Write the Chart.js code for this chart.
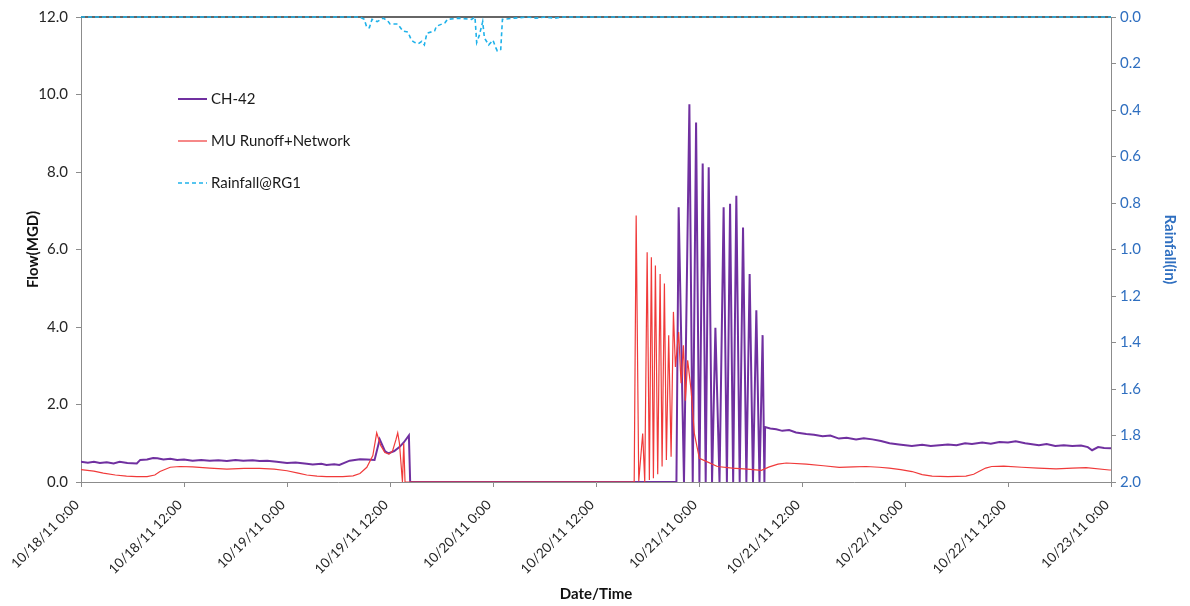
<!DOCTYPE html>
<html>
<head>
<meta charset="utf-8">
<title>CH-42 Flow vs Rainfall</title>
<script src="https://cdn.jsdelivr.net/npm/chart.js@4.4.1/dist/chart.umd.min.js"></script>
<style>
  html, body { margin: 0; padding: 0; background: #fff; }
  #wrap { width: 1190px; height: 606px; position: relative; }
</style>
</head>
<body>
<div id="wrap"><canvas id="flowChart"></canvas></div>
<script>
// x values are hours after 10/18/11 0:00
const tickLabels = ['10/18/11 0:00', '10/18/11 12:00', '10/19/11 0:00', '10/19/11 12:00', '10/20/11 0:00',
    '10/20/11 12:00', '10/21/11 0:00', '10/21/11 12:00', '10/22/11 0:00', '10/22/11 12:00', '10/23/11 0:00'];

const ch42Hours = [0, 0.8, 1.5, 2.2, 3.0, 3.8, 4.5, 5.4, 6.5, 6.9, 7.7, 8.4, 8.9, 9.6, 10.4, 11.2, 12.0, 13.0, 14.0,
    15.0, 16.0, 17.0, 18.0, 18.9, 20.0, 20.8, 21.7, 22.8, 24.0, 25.0, 26.3, 27.0, 28.0, 28.6, 29.5, 30.1, 31.3, 32.5,
    33.3, 34.2, 34.8, 35.4, 35.8, 36.5, 37.1, 37.6, 38.2, 38.35,
    69.37, 69.63, 70.25, 70.88, 71.27, 71.66, 72.05, 72.43, 72.78, 73.13, 73.52, 73.91, 74.39, 74.87, 75.25, 75.62,
    75.98, 76.35, 76.74, 77.13, 77.52, 77.9, 78.29, 78.68, 79.05, 79.41, 79.62,
    79.7, 80.3, 81.0, 81.7, 82.5, 83.3, 84.5, 85.4, 86.4, 87.3, 88.3, 89.2, 90.3, 91.2, 92.2, 93.2, 94.2, 95.3, 96.8,
    98.0, 99.0, 100.0, 101.0, 102.0, 103.0, 103.8, 105.0, 106.0, 107.0, 108.0, 108.9, 110.0, 111.6, 112.5, 113.5,
    114.5, 115.5, 116.5, 117.3, 117.8, 118.5, 119.2, 120.0];
const ch42Flow = [0.52, 0.50, 0.52, 0.49, 0.51, 0.48, 0.52, 0.49, 0.48, 0.57, 0.58, 0.62, 0.61, 0.58, 0.60, 0.57, 0.58,
    0.55, 0.57, 0.55, 0.56, 0.54, 0.57, 0.55, 0.56, 0.54, 0.55, 0.52, 0.49, 0.50, 0.47, 0.45, 0.47, 0.44, 0.46, 0.44,
    0.55, 0.59, 0.58, 0.57, 1.10, 0.80, 0.74, 0.80, 0.90, 1.02, 1.20, 0,
    0, 7.09, 0, 9.75, 0, 9.28, 0, 8.22, 0, 8.12, 0, 3.98, 0, 7.09, 0, 7.18,
    0, 7.39, 0, 6.57, 0, 5.37, 0, 4.43, 0, 3.79, 0,
    1.42, 1.38, 1.36, 1.32, 1.34, 1.28, 1.24, 1.22, 1.18, 1.20, 1.12, 1.14, 1.10, 1.13, 1.10, 1.06, 1.00, 0.97, 0.93,
    0.96, 0.93, 0.95, 0.97, 0.95, 1.00, 0.98, 1.02, 0.99, 1.03, 1.02, 1.05, 1.00, 0.95, 0.98, 0.93,
    0.95, 0.93, 0.94, 0.90, 0.82, 0.90, 0.88, 0.87];

const muHours = [0, 1.5, 2.6, 4.0, 5.3, 6.5, 7.7, 8.6, 9.2, 10.4, 11.5, 13.0, 15.0, 17.0, 19.0, 20.8, 22.5, 24.0, 25.3,
    26.3, 27.5, 28.6, 30.5, 31.7, 32.5, 33.3, 34.0, 34.45, 34.9, 35.4, 35.9, 36.3, 36.7, 36.9, 37.1, 37.36, 37.45,
    37.6, 37.75,
    64.45, 64.68, 64.98, 65.44, 65.68, 65.96, 66.22, 66.45, 66.69, 66.92, 67.19, 67.47, 67.70, 67.97, 68.20, 68.47,
    68.75, 69.02, 69.25, 69.63, 69.91, 70.18, 70.41, 70.68, 71.08, 71.46, 72.04, 72.97, 74.14, 75.88, 77.62, 79.26,
    80.19, 81.2, 82.17, 84.5, 86.5, 88.34, 90.0, 91.48, 93.0, 94.16, 95.5, 96.83, 98.0, 99.16, 101.0, 103.1, 104.0,
    104.6, 105.4, 106.1, 107.5, 109.6, 111.5, 113.6, 115.5, 117.1, 119.8, 120.0];
const muFlow = [0.32, 0.28, 0.23, 0.18, 0.15, 0.14, 0.14, 0.18, 0.27, 0.38, 0.40, 0.39, 0.36, 0.33, 0.35, 0.35, 0.33,
    0.29, 0.23, 0.18, 0.15, 0.14, 0.14, 0.16, 0.22, 0.38, 0.68, 1.27, 0.95, 0.76, 0.72, 0.80, 1.10, 1.27, 1.00, 0.25, 0,
    1.00, 0,
    0, 6.88, 0.02, 1.25, 0, 5.93, 0.05, 5.80, 0.10, 5.59, 0.20, 5.37, 0.40, 5.12, 0.57, 3.79,
    0.65, 4.39, 2.97, 3.87, 2.55, 3.53, 2.10, 3.14, 2.37, 1.25, 0.61, 0.52, 0.40, 0.36, 0.33, 0.30,
    0.39, 0.46, 0.49, 0.46, 0.42, 0.38, 0.39, 0.40, 0.38, 0.36, 0.32, 0.27, 0.19, 0.15, 0.14, 0.15, 0.20,
    0.27, 0.36, 0.40, 0.41, 0.38, 0.36, 0.34, 0.36, 0.37, 0.31, 0.31];

const rainHours = [0, 32.5, 33.0, 33.3, 33.6, 33.9, 34.5, 35.2, 35.7, 36.0, 36.9, 37.5, 38.1, 38.5, 38.9, 39.3, 39.7,
    40.0, 40.3, 41.2, 41.4, 42.4, 42.7, 44.0, 45.5, 45.9, 46.1, 46.4, 46.8, 47.0, 47.5, 48.0, 48.3, 48.5, 48.9, 49.1,
    50.5, 52.0, 53.0, 54.0, 55.2, 56.0, 120.0];
const rainRG1 = [0, 0, 0.01, 0.045, 0.046, 0.01, 0.02, 0.005, 0.015, 0.03, 0.03, 0.06, 0.065, 0.10, 0.11, 0.115, 0.105,
    0.12, 0.07, 0.06, 0.04, 0.025, 0.01, 0.005, 0.01, 0, 0.11, 0.08, 0.02, 0.09, 0.12, 0.10, 0.13, 0.146, 0.14, 0.01,
    0.005, 0, 0.005, 0, 0.005, 0, 0];

function toPoints(xs, ys) {
    return xs.map((x, i) => ({ x: x, y: ys[i] }));
}

Chart.defaults.font.family = 'Lato, "Open Sans", sans-serif';
Chart.defaults.font.size = 15;
Chart.defaults.color = '#262626';

// dark line along the top of the plot area
const topBorder = {
    id: 'topBorder',
    beforeDatasetsDraw(chart) {
        const { ctx, chartArea } = chart;
        ctx.save();
        ctx.strokeStyle = '#333333';
        ctx.lineWidth = 1.5;
        ctx.beginPath();
        ctx.moveTo(chartArea.left, chartArea.top);
        ctx.lineTo(chartArea.right, chartArea.top);
        ctx.stroke();
        ctx.restore();
    }
};

// legend drawn inside the plot, one item per row
const insideLegend = {
    id: 'insideLegend',
    afterDraw(chart) {
        const { ctx, chartArea } = chart;
        const x0 = chartArea.left + 97;
        const y0 = chartArea.top + 82;
        chart.data.datasets.forEach((ds, i) => {
            const y = y0 + i * 42;
            ctx.save();
            ctx.strokeStyle = ds.borderColor;
            ctx.lineWidth = ds.borderWidth;
            ctx.setLineDash(ds.borderDash || []);
            ctx.beginPath();
            ctx.moveTo(x0, y);
            ctx.lineTo(x0 + 29, y);
            ctx.stroke();
            ctx.setLineDash([]);
            ctx.fillStyle = '#1a1a1a';
            ctx.font = '15px Lato, "Open Sans", sans-serif';
            ctx.textBaseline = 'middle';
            ctx.fillText(ds.label, x0 + 33, y);
            ctx.restore();
        });
    }
};

const axisGrey = '#8c8c8c';
const rainBlue = '#2f6fc0';

const ctx = document.getElementById('flowChart').getContext('2d');
const flowChart = new Chart(ctx, {
    type: 'line',
    data: {
        datasets: [{
            label: 'CH-42',
            data: toPoints(ch42Hours, ch42Flow),
            borderColor: '#7030a0',
            borderWidth: 2,
            yAxisID: 'y',
            order: 2
        }, {
            label: 'MU Runoff+Network',
            data: toPoints(muHours, muFlow),
            borderColor: '#f03a3a',
            borderWidth: 1.2,
            yAxisID: 'y',
            order: 1
        }, {
            label: 'Rainfall@RG1',
            data: toPoints(rainHours, rainRG1),
            borderColor: '#1fb2ea',
            borderWidth: 1.6,
            borderDash: [4, 3],
            yAxisID: 'y2',
            clip: false,
            order: 0
        }]
    },
    options: {
        responsive: true,
        maintainAspectRatio: false,
        animation: false,
        layout: { padding: { top: 16, left: 0, right: 0, bottom: 0 } },
        elements: {
            point: { radius: 0 },
            line: { tension: 0 }
        },
        plugins: {
            legend: { display: false },
            tooltip: { enabled: false }
        },
        scales: {
            x: {
                type: 'linear',
                min: 0,
                max: 120,
                afterFit: s => { s.height = 124; },
                grid: { drawOnChartArea: false, tickLength: 5, color: axisGrey },
                border: { color: axisGrey },
                ticks: {
                    stepSize: 12,
                    autoSkip: false,
                    minRotation: 45,
                    maxRotation: 45,
                    padding: 10,
                    labelOffset: -4,
                    font: { size: 13.5 },
                    callback: v => tickLabels[Math.round(v / 12)]
                },
                title: {
                    display: true,
                    text: 'Date/Time',
                    font: { weight: 'bold', size: 15 },
                    color: '#111',
                    padding: { top: 0, bottom: 3 }
                }
            },
            y: {
                position: 'left',
                min: 0,
                max: 12,
                afterFit: s => { s.width = 81; },
                grid: { drawOnChartArea: false, tickLength: 5, color: axisGrey },
                border: { color: axisGrey },
                ticks: {
                    stepSize: 2,
                    padding: 8,
                    callback: v => v.toFixed(1)
                },
                title: {
                    display: true,
                    text: 'Flow(MGD)',
                    font: { weight: 'bold', size: 15 },
                    color: '#111',
                    padding: { top: 24, bottom: 0 }
                }
            },
            y2: {
                position: 'right',
                reverse: true,
                min: 0,
                max: 2,
                afterFit: s => { s.width = 79; },
                grid: { drawOnChartArea: false, tickLength: 5, color: axisGrey },
                border: { color: axisGrey },
                ticks: {
                    stepSize: 0.2,
                    padding: 4,
                    color: rainBlue,
                    callback: v => v.toFixed(1)
                },
                title: {
                    display: true,
                    text: 'Rainfall(in)',
                    font: { weight: 'bold', size: 15 },
                    color: rainBlue,
                    padding: { top: 11, bottom: 0 }
                }
            }
        }
    },
    plugins: [topBorder, insideLegend]
});
</script>
</body>
</html>
